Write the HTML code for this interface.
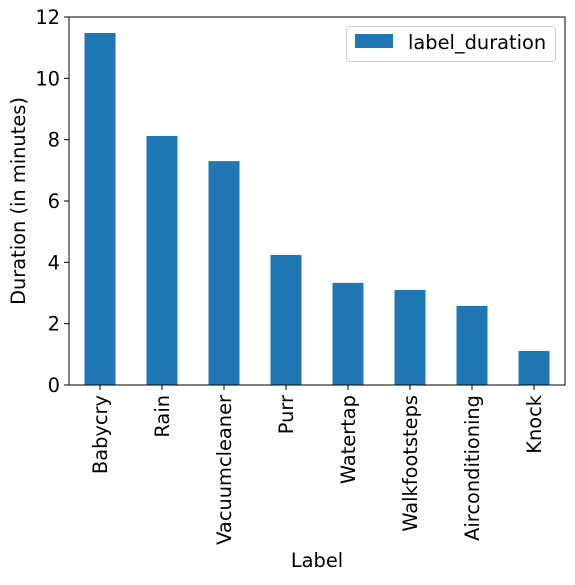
<!DOCTYPE html>
<html><head><meta charset="utf-8"><style>
body{margin:0;background:#fff;}
svg text{font-family:"DejaVu Sans","Liberation Sans",sans-serif;fill:#000;}
</style></head><body>
<svg id="chart" width="575" height="580" xmlns="http://www.w3.org/2000/svg">
<rect x="0" y="0" width="575" height="580" fill="#fff"/>
<g id="plot"></g>
</svg>
<script>
const categories = ["Babycry","Rain","Vacuumcleaner","Purr","Watertap","Walkfootsteps","Airconditioning","Knock"];
const durations = [11.48, 8.12, 7.30, 4.24, 3.33, 3.10, 2.58, 1.11];
const yTicks = [0, 2, 4, 6, 8, 10, 12];
const seriesName = "label_duration";

const L = 69, R = 565, T = 17, B = 385, yMax = 12, FS = 19.4;
const NS = "http://www.w3.org/2000/svg";
const g = document.getElementById('plot');
function y(v){ return B - (v / yMax) * (B - T); }
const step = (R - L) / categories.length;
function xc(i){ return L + step * (i + 0.5); }
function el(tag, attrs, text){
  const e = document.createElementNS(NS, tag);
  for (const k in attrs) e.setAttribute(k, attrs[k]);
  if (text !== undefined) e.textContent = text;
  g.appendChild(e); return e;
}
durations.forEach((v, i) => {
  const b = el('rect', {x: xc(i) - step / 4, y: y(v), width: step / 2, height: B - y(v), fill: '#1f77b4'});
  
  
});
const frame = el('rect', {x: L, y: T, width: R - L, height: B - T, fill: 'none', stroke: '#000', 'stroke-width': 1});


yTicks.forEach(t => {
  el('line', {x1: L - 5, x2: L, y1: y(t), y2: y(t), stroke: '#000'});
  const tx = el('text', {x: L - 9, y: y(t) + 7, 'text-anchor': 'end', 'font-size': FS}, String(t));
  
  
});
categories.forEach((c, i) => {
  el('line', {x1: xc(i), x2: xc(i), y1: B, y2: B + 5, stroke: '#000'});
  const tx = el('text', {x: 0, y: 0, 'text-anchor': 'end', 'font-size': FS, transform: `translate(${xc(i) + 7},${B + 10}) rotate(-90)`}, c);
  
  
});
const xt = el('text', {x: (L + R) / 2, y: 567, 'text-anchor': 'middle', 'font-size': FS}, 'Label');


const yt = el('text', {x: 0, y: 0, 'text-anchor': 'middle', 'font-size': FS, transform: `translate(25,${(T + B) / 2}) rotate(-90)`}, 'Duration (in minutes)');


const lg = el('rect', {x: 346.5, y: 26.5, width: 209, height: 35, rx: 3, fill: '#fff', stroke: '#ccc'});


const sw = el('rect', {x: 355, y: 34, width: 38, height: 14, fill: '#1f77b4'});


const lt = el('text', {x: 408, y: 49, 'font-size': FS}, seriesName);


</script>
</body></html>
